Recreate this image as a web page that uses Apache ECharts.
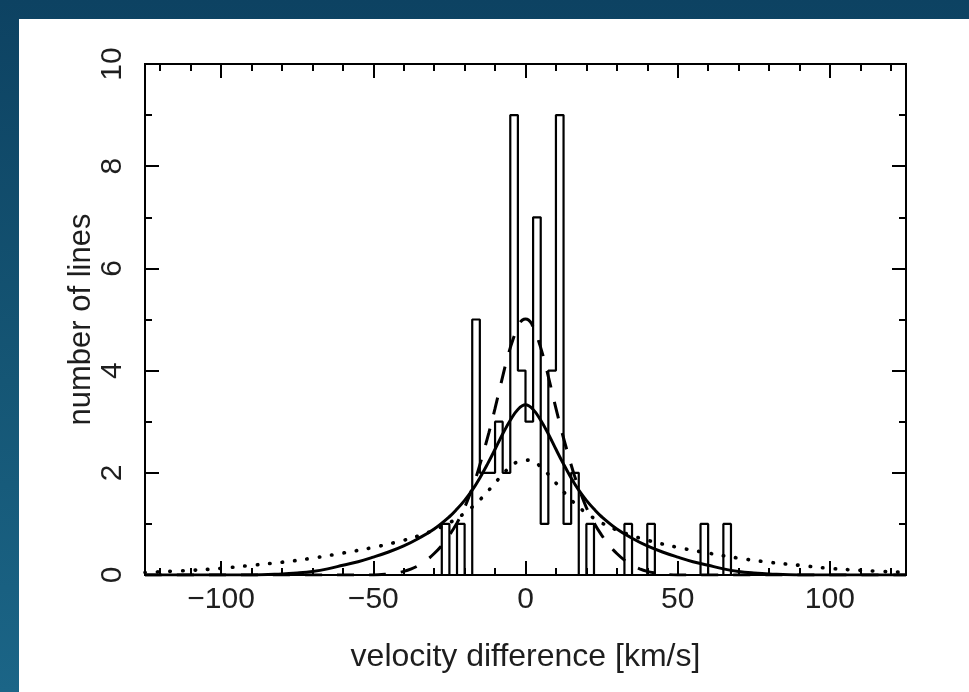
<!DOCTYPE html>
<html><head><meta charset="utf-8">
<script src="https://cdn.jsdelivr.net/npm/echarts@6/dist/echarts.min.js"></script>
<style>
html,body{margin:0;padding:0;width:969px;height:692px;overflow:hidden;background:linear-gradient(180deg,#0d4262 0%,#155675 55%,#1b6587 100%);}
#panel{position:absolute;left:19px;top:19px;width:950px;height:673px;background:#fff;}
#chart{position:absolute;left:0;top:0;width:969px;height:692px;}
</style></head><body><div id="panel"></div><div id="chart"></div>
<script>
// ---- data ----
const xMajorTicks = [-100, -50, 0, 50, 100];
const xMinorTicks = [-120,-110,-100,-90,-80,-70,-60,-50,-40,-30,-20,-10,0,10,20,30,40,50,60,70,80,90,100,110,120];
const yMajorTicks = [0, 2, 4, 6, 8, 10];
const yMinorTicks = [1, 3, 5, 7, 9];

const binStart = -27.5;
const binWidth = 2.5;
const binCounts = [1,0,1,0,5,2,2,3,2,9,4,3,7,1,4,9,1,2,0,1,0,0,0,0,1,0,0,1,0,0,0,0,0,0,1,0,0,1];

const solidV = [-125,-90,-80,-75,-70,-65,-60,-55,-50,-45,-40,-35,-30,-25,-22.5,-20,-17.5,-15,-12.5,-10,-7.5,-5,-2.5,0,2.5,5,7.5,10,12.5,15,17.5,20,22.5,25,30,35,40,45,50,55,60,65,70,75,80,90,125];
const solidY = [0,0,0.02,0.04,0.07,0.12,0.19,0.26,0.35,0.45,0.57,0.72,0.9,1.14,1.29,1.46,1.66,1.9,2.17,2.46,2.76,3.03,3.24,3.33,3.24,3.03,2.76,2.46,2.17,1.9,1.66,1.46,1.29,1.14,0.9,0.72,0.57,0.45,0.35,0.26,0.19,0.12,0.07,0.04,0.02,0,0];

const dashV = [-125,-50,-45,-42.5,-40,-37.5,-35,-32.5,-30,-27.5,-25,-22.5,-20,-18,-16,-14,-12,-10,-8,-6,-4,-2,-1,0,1,2,4,6,8,10,12,14,16,18,20,22.5,25,27.5,30,32.5,35,37.5,40,42.5,45,50,125];
const dashY = [0,0,0.02,0.04,0.07,0.12,0.19,0.29,0.42,0.58,0.78,1.02,1.32,1.62,1.96,2.36,2.79,3.26,3.76,4.24,4.63,4.92,4.99,5.01,4.99,4.92,4.63,4.24,3.76,3.26,2.79,2.36,1.96,1.62,1.32,1.02,0.78,0.58,0.42,0.29,0.19,0.12,0.07,0.04,0.02,0,0];

const dotV = [-125,-110,-100,-90,-80,-70,-60,-50,-40,-35,-30,-25,-20,-17.5,-15,-12.5,-10,-7.5,-5,-2.5,0,2.5,5,7.5,10,12.5,15,17.5,20,25,30,35,40,50,60,70,80,90,100,110,125];
const dotY = [0.05,0.09,0.13,0.19,0.25,0.33,0.43,0.54,0.68,0.77,0.88,1.02,1.21,1.33,1.47,1.63,1.8,1.97,2.12,2.22,2.25,2.22,2.12,1.97,1.8,1.63,1.47,1.33,1.21,1.02,0.88,0.77,0.68,0.54,0.43,0.33,0.25,0.19,0.13,0.09,0.05];

const xName = 'velocity difference [km/s]';
const yName = 'number of lines';

// ---- build series data ----
const histData = [[binStart, 0]];
binCounts.forEach((c, i) => {
  const lo = binStart + i * binWidth, hi = lo + binWidth;
  histData.push([lo, c], [hi, c]);
});
histData.push([binStart + binCounts.length * binWidth, 0]);
const zip = (a, b) => a.map((v, i) => [v, b[i]]);

const FONT = '"Liberation Sans", Arial, Helvetica, sans-serif';
const black = '#000';
const txt = '#1e1e1e';
const minus = v => (v < 0 ? '\u2212' + Math.abs(v) : String(v));

function xAx(grid, pos, ticks, len, labels) {
  return {
    type: 'value', gridIndex: grid, position: pos, min: -125, max: 125,
    axisLine: { show: true, onZero: false, lineStyle: { color: black, width: 2 } },
    axisTick: { show: true, inside: true, length: len, customValues: ticks, lineStyle: { color: black, width: 2 } },
    axisLabel: labels ? { show: true, customValues: ticks, formatter: minus, fontSize: 30, fontFamily: FONT, color: txt, margin: 10 } : { show: false },
    splitLine: { show: false },
    name: labels ? xName : '', nameLocation: 'middle', nameGap: 66, nameMoveOverlap: false,
    nameTextStyle: { fontSize: 32, fontFamily: FONT, color: txt }
  };
}
function yAx(grid, pos, ticks, len, labels) {
  return {
    type: 'value', gridIndex: grid, position: pos, min: 0, max: 10,
    axisLine: { show: true, onZero: false, lineStyle: { color: black, width: 2 } },
    axisTick: { show: true, inside: true, length: len, customValues: ticks, lineStyle: { color: black, width: 2 } },
    axisLabel: labels ? { show: true, customValues: ticks, rotate: 90, fontSize: 30, fontFamily: FONT, color: txt, margin: 17 } : { show: false },
    splitLine: { show: false },
    name: labels ? yName : '', nameLocation: 'middle', nameGap: 48, nameRotate: 90, nameMoveOverlap: false,
    nameTextStyle: { fontSize: 31, fontFamily: FONT, color: txt }
  };
}

const gridBox = { left: 145, right: 63, top: 64, bottom: 117, containLabel: false };
const chart = echarts.init(document.getElementById('chart'), null, { renderer: 'canvas' });
chart.setOption({
  backgroundColor: 'transparent',
  animation: false,
  grid: [Object.assign({}, gridBox), Object.assign({}, gridBox)],
  xAxis: [
    xAx(0, 'bottom', xMajorTicks, 14, true),
    xAx(0, 'top', xMajorTicks, 14, false),
    xAx(1, 'bottom', xMinorTicks, 7, false),
    xAx(1, 'top', xMinorTicks, 7, false)
  ],
  yAxis: [
    yAx(0, 'left', yMajorTicks, 14, true),
    yAx(0, 'right', yMajorTicks, 14, false),
    yAx(1, 'left', yMinorTicks, 7, false),
    yAx(1, 'right', yMinorTicks, 7, false)
  ],
  series: [
    { type: 'line', xAxisIndex: 0, yAxisIndex: 0, data: histData, symbol: 'none',
      lineStyle: { color: black, width: 2.2 }, z: 3 },
    { type: 'line', xAxisIndex: 0, yAxisIndex: 0, data: zip(solidV, solidY), symbol: 'none',
      smooth: 0.4, lineStyle: { color: black, width: 3 }, z: 4 },
    { type: 'line', xAxisIndex: 0, yAxisIndex: 0, data: zip(dashV, dashY), symbol: 'none',
      smooth: 0.4, lineStyle: { color: black, width: 3, type: [17, 15] }, z: 4 },
    { type: 'line', xAxisIndex: 0, yAxisIndex: 0, data: zip(dotV, dotY), symbol: 'none',
      smooth: 0.4, lineStyle: { color: black, width: 3.6, type: [0.5, 12], cap: 'round' }, z: 4 }
  ]
});
</script></body></html>
